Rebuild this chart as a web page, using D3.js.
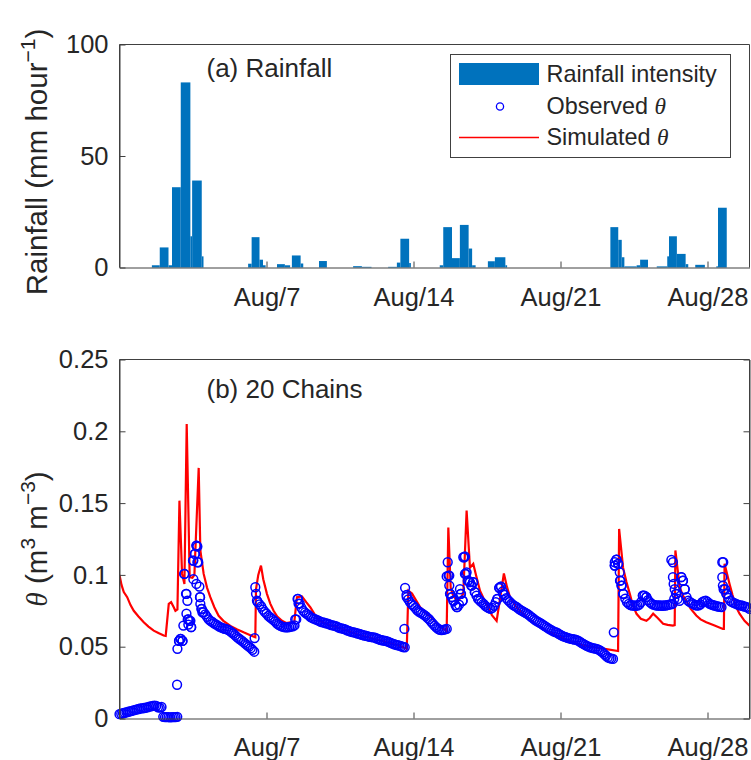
<!DOCTYPE html>
<html>
<head>
<meta charset="utf-8">
<script src="https://cdn.jsdelivr.net/npm/d3@7"></script>
<style>
  body { margin: 0; background: #fff; }
  svg { display: block; }
  text { font-family: "Liberation Sans", Arial, sans-serif; fill: #262626; }
</style>
</head>
<body>
<svg id="chart" width="751" height="760"></svg>
<script>
// ---- Rainfall intensity blocks (hours since Jul 31 00:00, mm/hour) ----
const rainStartHour = [37,46,56,60,70,81,83,94, 147,151,160,164, 180,189,197,207, 228, 267,277,
  307,317,321,331, 366,370,380,389,399,403, 421,429,441, 561,570,574,577,591,595,
  614,626,628,637,647, 658, 682,684];
const rainEndHour = [46,56,60,70,81,83,94,96, 151,160,164,167, 189,195,207,210, 237, 277,288,
  317,321,331,333, 370,380,389,399,403,407, 429,441,443, 570,574,577,591,595,604,
  626,628,637,647,650, 669, 684,694];
const rainIntensity = [1,9,1,36,83,14,39,5, 1.7,13.6,3.5,1, 1.5,1,5.4,1.8, 2.9, 0.6,0.3,
  0.3,2.2,12.9,2, 1,18.1,4.2,19.1,8.5,1, 2.8,4.6,1, 18.1,12.4,4.6,0.5,1,3.5,
  0.5,5,14,6.1,1.5, 1.2, 0.5,26.8];

// ---- Observed soil moisture, 2-hourly record starting Jul 31 00:00 (m3/m3) ----
const obsStepHours = 2;
const obsTheta = [
  0.003,0.0033,0.0037,0.004,0.0043,0.0047,0.005,0.0053,0.0057,0.006,
  0.0063,0.0066,0.007,0.0071,0.0073,0.0075,0.0078,0.0082,0.0085,0.0088,
  0.009,0.0087,0.0078,0.0076,0.008,0.0012,0.001,0.001,0.0009,0.0008,
  0.0009,0.001,0.001,0.0012,0.054,0.0555,0.054,0.1007,0.0868,0.069,
  0.068,0.0636,0.11,0.1146,0.1204,0.1088,0.0845,0.0763,0.074,0.0725,
  0.0708,0.069,0.068,0.0672,0.0663,0.0655,0.0648,0.064,0.0635,0.063,
  0.0625,0.0622,0.0618,0.061,0.06,0.0592,0.058,0.0568,0.0558,0.055,
  0.054,0.053,0.052,0.051,0.05,0.049,0.0478,0.0465,0.0868,0.081,
  0.0795,0.078,0.0758,0.0742,0.073,0.0715,0.0705,0.0695,0.0685,0.0675,
  0.066,0.0652,0.0645,0.064,0.0636,0.0635,0.0635,0.0637,0.064,0.0642,
  0.0648,0.069,0.0833,0.08,0.077,0.075,0.0738,0.0728,0.072,0.0708,
  0.07,0.0695,0.069,0.0685,0.068,0.0673,0.067,0.0668,0.0663,0.066,
  0.0655,0.065,0.0648,0.0645,0.0642,0.0635,0.063,0.0627,0.0624,0.062,
  0.0614,0.061,0.0605,0.0602,0.06,0.0596,0.0592,0.059,0.0585,0.058,
  0.0578,0.0575,0.0572,0.0568,0.0566,0.0565,0.0563,0.0557,0.0552,0.0548,
  0.0545,0.0543,0.054,0.0537,0.0532,0.0527,0.0522,0.0517,0.0513,0.051,
  0.0507,0.0503,0.0498,0.0496,0.086,0.083,0.081,0.0795,0.0785,0.077,
  0.0755,0.0745,0.0738,0.073,0.0722,0.0713,0.07,0.069,0.0675,0.066,
  0.0647,0.0635,0.0625,0.0618,0.0615,0.0617,0.062,0.0624,0.0995,0.0868,
  0.0845,0.082,0.079,0.0775,0.0793,0.0868,0.082,0.1123,0.1007,0.096,
  0.0949,0.0926,0.0949,0.088,0.0855,0.0833,0.082,0.0808,0.0798,0.0785,
  0.0775,0.0768,0.0763,0.077,0.0785,0.081,0.0833,0.091,0.0919,0.0885,
  0.086,0.0838,0.0825,0.0812,0.08,0.079,0.0782,0.0775,0.0765,0.0757,
  0.075,0.0742,0.0735,0.0728,0.072,0.071,0.07,0.069,0.0682,0.0675,
  0.0668,0.066,0.0652,0.0644,0.0636,0.0628,0.062,0.0613,0.0607,0.0602,
  0.0598,0.059,0.0582,0.0575,0.057,0.0566,0.0562,0.0558,0.0555,0.0552,
  0.055,0.0548,0.0543,0.0535,0.0527,0.052,0.0513,0.0506,0.05,0.0495,
  0.0492,0.0488,0.0486,0.0483,0.0478,0.047,0.046,0.0448,0.0437,0.0425,
  0.042,0.0417,0.0415,0.1065,0.1107,0.1077,0.096,0.0926,0.0868,0.0835,
  0.081,0.0798,0.079,0.0787,0.0787,0.0785,0.0787,0.0793,0.081,0.0856,
  0.0856,0.0845,0.0825,0.081,0.08,0.0793,0.079,0.0787,0.0787,0.0787,
  0.0785,0.0787,0.0787,0.079,0.0793,0.0795,0.0798,0.0833,0.0868,0.0833,
  0.082,0.0984,0.096,0.09,0.0845,0.082,0.081,0.0803,0.0797,0.079,
  0.0787,0.0788,0.0795,0.081,0.0818,0.082,0.0812,0.08,0.0795,0.079,
  0.0787,0.0783,0.078,0.0777,0.0775,0.1088,0.09,0.0868,0.084,0.082,
  0.081,0.0805,0.08,0.0795,0.079,0.0787,0.0785,0.078,0.0777,0.0772,
  0.0763
];

// ---- Additional observed readings logged during storm responses ----
const obsExtraHour = [65.8,66.2,68.1,69.6,71.9,73.0,74.2,76.5,77.6,76.5,78.7,81.0,78.7,81.8,84.4,84.4,86.4,87.9,89.0,89.0,87.9,91.3,92.1,92.4,93.6,94.7,
  154.4,155.2,157.1,200.8,203.5,204.6,
  325.6,326.4,328.3,
  375.1,373.9,376.9,376.9,377.7,379.6,381.5,385.4,389.1,390.3,392.2,392.9,394.8,394.8,396.7,398.6,400.5,402.5,404.3,406.2,410.0,431.7,434.0,435.6,438.5,
  564.9,566.0,567.9,566.0,569.8,571.7,572.5,573.6,575.5,598.3,602.2,
  630.7,632.5,632.5,633.3,634.5,636.4,642.1,643.9,645.9,
  688.9,688.9,689.6,690.4,693.4];
const obsExtraTheta = [0.0235,0.0485,0.054,0.0555,0.054,0.0647,0.1007,0.0868,0.082,0.073,0.069,0.068,0.0654,0.0636,0.110,0.097,0.1146,0.1204,0.1197,0.1088,0.0937,0.0919,0.0845,0.0798,0.0763,0.074,
  0.056,0.0914,0.082,0.069,0.0833,0.080,
  0.0624,0.091,0.0845,
  0.1088,0.0989,0.0995,0.0926,0.0868,0.0845,0.082,0.0775,0.090,0.0868,0.082,0.1123,0.1128,0.1007,0.1018,0.096,0.0949,0.0926,0.0949,0.088,0.0833,0.0833,0.091,0.0919,0.0868,
  0.060,0.1088,0.1107,0.1065,0.1077,0.1018,0.096,0.0926,0.0868,0.0856,0.0845,
  0.1104,0.1088,0.0984,0.0937,0.090,0.0868,0.0984,0.096,0.090,
  0.1088,0.0984,0.0926,0.090,0.0868];

// ---- Simulated soil moisture (model output) ----
const simHour = [0,2.3,4.9,8.8,12.6,16.3,21.7,27.7,33.1,39.1,
  44.5,50.5,52.8,56.3,59.0,62.0,63.9,66.2,68.5,71.5,
  74.2,76.8,80.2,83.3,85.6,90.5,92.4,96.2,100.1,103.8,
  108.4,113.3,118.7,126.7,134.6,141.8,149.5,155.2,156.0,158.6,
  161.7,164.3,168.5,172.3,176.1,180.3,185.7,190.6,195.1,199.7,
  202.8,208.5,213.4,218.0,222.5,227.4,232.8,252.2,275.0,297.9,
  320.7,328.3,330.1,334.3,343.7,358.6,366.3,373.9,375.8,378.5,
  381.1,385.4,389.1,392.9,396.7,400.5,404.3,407.4,412.0,416.5,
  421.4,425.6,431.0,439.3,442.7,446.2,453.0,461.3,470.1,480.4,
  489.5,499.5,509.0,518.4,529.5,541.2,554.6,569.8,571.0,575.5,
  579.4,583.2,586.6,590.9,595.8,602.2,606.0,609.9,615.1,621.3,
  626.5,632.5,634.5,635.3,640.2,643.6,647.8,652.7,659.2,664.1,
  670.6,680.1,689.6,690.7,691.5,697.2,700.6,704.8,708.6,714.3,
  720];
const simTheta = [0.1,0.093,0.088,0.0845,0.079,0.075,0.071,0.067,0.064,0.0612,
  0.0595,0.0578,0.0575,0.0798,0.081,0.0775,0.075,0.076,0.1517,0.1007,
  0.0937,0.205,0.0984,0.098,0.1,0.1745,0.117,0.1007,0.091,0.0845,
  0.0775,0.0715,0.068,0.0645,0.062,0.06,0.058,0.0566,0.09,0.1,
  0.1065,0.097,0.0868,0.08,0.075,0.071,0.068,0.0665,0.067,0.0668,
  0.0845,0.085,0.081,0.0775,0.073,0.069,0.0667,0.0628,0.058,0.0545,
  0.0505,0.0485,0.089,0.087,0.0775,0.069,0.064,0.061,0.133,0.091,
  0.086,0.082,0.0835,0.087,0.1448,0.105,0.1077,0.1,0.089,0.083,
  0.0775,0.072,0.068,0.101,0.092,0.0845,0.078,0.073,0.068,0.0636,
  0.0605,0.0578,0.0553,0.053,0.051,0.0496,0.0485,0.047,0.132,0.105,
  0.095,0.0868,0.079,0.0729,0.0695,0.068,0.07,0.073,0.07,0.066,
  0.0652,0.0647,0.065,0.117,0.0914,0.086,0.082,0.0765,0.0717,0.069,
  0.067,0.0648,0.0624,0.0624,0.1077,0.0937,0.086,0.0775,0.073,0.068,
  0.0647];

// ---- Axis ticks ----
const tickDates = ["2018-08-07", "2018-08-14", "2018-08-21", "2018-08-28"];
const rainTicks = [0, 50, 100];
const thetaTicks = [0, 0.05, 0.1, 0.15, 0.2, 0.25];

// ---- Layout ----
const start = new Date(2018, 6, 31);
const end = new Date(2018, 7, 30);
const atHour = h => new Date(start.getTime() + h * 3600e3);
const parseDay = d3.timeParse("%Y-%m-%d");
const fmt = d3.timeFormat("%b/%-d");

const left = 119.5, right = 749.5;
const topA = 44.5, botA = 267.5;
const topB = 359.5, botB = 718.5;
const axisColor = "#404040";
const tickFont = "25.5px";

const svg = d3.select("#chart");
const x = d3.scaleTime().domain([start, end]).range([left, right]);
const yR = d3.scaleLinear().domain([0, 100]).range([botA, topA]);
const yT = d3.scaleLinear().domain([0, 0.25]).range([botB, topB]);

function styleAxis(g) {
  g.selectAll(".domain").attr("stroke", axisColor);
  g.selectAll(".tick line").attr("stroke", axisColor);
  g.selectAll(".tick text").style("font-size", tickFont).attr("fill", "#262626");
}

// ===== Panel (a): rainfall =====
const gA = svg.append("g");
const rain = rainIntensity.map((v, i) => ({ s: atHour(rainStartHour[i]), e: atHour(rainEndHour[i]), v }));
gA.selectAll("rect.bar").data(rain).enter().append("rect")
  .attr("class", "bar")
  .attr("x", d => x(d.s))
  .attr("width", d => Math.max(0.5, x(d.e) - x(d.s)))
  .attr("y", d => yR(d.v))
  .attr("height", d => yR(0) - yR(d.v))
  .attr("fill", "#0072BD");

gA.append("g").attr("transform", `translate(0,${botA})`)
  .call(d3.axisBottom(x).tickValues(tickDates.map(parseDay)).tickFormat(fmt)
    .tickSizeInner(-6).tickSizeOuter(0).tickPadding(20))
  .call(styleAxis);
gA.append("g").attr("transform", `translate(${left},0)`)
  .call(d3.axisLeft(yR).tickValues(rainTicks).tickSizeInner(-6).tickSizeOuter(0).tickPadding(11))
  .call(styleAxis);
gA.append("path").attr("d", `M${left},${botA}V${topA}H${right}V${botA}`)
  .attr("fill", "none").attr("stroke", axisColor);

gA.append("text").attr("x", 206.5).attr("y", 77).style("font-size", "26px").text("(a) Rainfall");

// y label for rainfall
const labA = gA.append("text").attr("transform", `translate(47,${(topA + botA) / 2 + 6}) rotate(-90)`)
  .attr("text-anchor", "middle").style("font-size", "29.5px");
labA.append("tspan").text("Rainfall (mm hour");
labA.append("tspan").attr("dy", -12).style("font-size", "21px").text("\u22121");
labA.append("tspan").attr("dy", 12).text(")");

// legend
const lg = gA.append("g");
lg.append("rect").attr("x", 450.5).attr("y", 54.5).attr("width", 280).attr("height", 103)
  .attr("fill", "#fff").attr("stroke", axisColor);
lg.append("rect").attr("x", 459).attr("y", 63).attr("width", 80).attr("height", 22).attr("fill", "#0072BD");
lg.append("circle").attr("cx", 500).attr("cy", 106.5).attr("r", 3.6)
  .attr("fill", "none").attr("stroke", "#0000ff").attr("stroke-width", 1.3);
lg.append("line").attr("x1", 459).attr("x2", 539).attr("y1", 137.5).attr("y2", 137.5)
  .attr("stroke", "#ff0000").attr("stroke-width", 1.3);
const legendRows = [
  { y: 74, label: "Rainfall intensity", theta: false },
  { y: 106, label: "Observed ", theta: true },
  { y: 137, label: "Simulated ", theta: true }
];
legendRows.forEach(r => {
  const t = lg.append("text").attr("x", 546.5).attr("y", r.y).attr("dy", "0.36em").style("font-size", "23.4px");
  t.append("tspan").text(r.label);
  if (r.theta) t.append("tspan").style("font-family", "'Liberation Serif', serif").style("font-style", "italic").text("\u03b8");
});

// ===== Panel (b): soil moisture =====
const gB = svg.append("g");
svg.append("clipPath").attr("id", "clipB").append("rect")
  .attr("x", left).attr("y", topB).attr("width", right - left).attr("height", botB - topB);

const sim = simTheta.map((v, i) => ({ t: atHour(simHour[i]), v }));
gB.append("path").datum(sim)
  .attr("clip-path", "url(#clipB)")
  .attr("fill", "none").attr("stroke", "#ff0000").attr("stroke-width", 2.2)
  .attr("d", d3.line().x(d => x(d.t)).y(d => yT(d.v)));

const obs = obsTheta.map((v, i) => ({ t: atHour(i * obsStepHours), v }))
  .concat(obsExtraTheta.map((v, i) => ({ t: atHour(obsExtraHour[i]), v })));
gB.selectAll("circle.obs").data(obs).enter().append("circle")
  .attr("class", "obs")
  .attr("cx", d => x(d.t)).attr("cy", d => yT(d.v)).attr("r", 4.4)
  .attr("fill", "none").attr("stroke", "#0000ff").attr("stroke-width", 1.5);

gB.append("g").attr("transform", `translate(0,${botB})`)
  .call(d3.axisBottom(x).tickValues(tickDates.map(parseDay)).tickFormat(fmt)
    .tickSizeInner(-6).tickSizeOuter(0).tickPadding(19))
  .call(styleAxis);
gB.append("g").attr("transform", `translate(${left},0)`)
  .call(d3.axisLeft(yT).tickValues(thetaTicks).tickFormat(d3.format("~g"))
    .tickSizeInner(-6).tickSizeOuter(0).tickPadding(11))
  .call(styleAxis);
gB.append("g").attr("transform", `translate(${right},0)`)
  .call(d3.axisRight(yT).tickValues(thetaTicks).tickFormat("").tickSizeInner(-6).tickSizeOuter(0))
  .call(styleAxis);
gB.append("path").attr("d", `M${left},${botB}V${topB}H${right}V${botB}`)
  .attr("fill", "none").attr("stroke", axisColor);

gB.append("text").attr("x", 206.5).attr("y", 398).style("font-size", "26px").text("(b) 20 Chains");

const labB = gB.append("text").attr("transform", `translate(47,${(topB + botB) / 2}) rotate(-90)`)
  .attr("text-anchor", "middle").style("font-size", "29.5px");
labB.append("tspan").style("font-family", "'Liberation Serif', serif").style("font-style", "italic").text("\u03b8");
labB.append("tspan").text(" (m");
labB.append("tspan").attr("dy", -12).style("font-size", "21px").text("3");
labB.append("tspan").attr("dy", 12).text(" m");
labB.append("tspan").attr("dy", -12).style("font-size", "21px").text("\u22123");
labB.append("tspan").attr("dy", 12).text(")");
</script>
</body>
</html>
